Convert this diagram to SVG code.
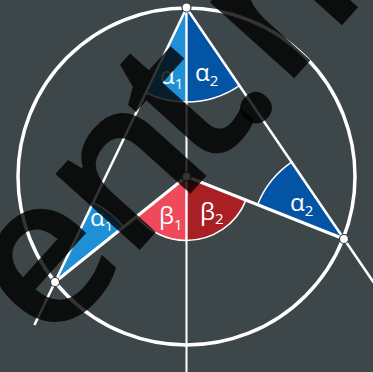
<svg xmlns="http://www.w3.org/2000/svg" width="373" height="372" viewBox="0 0 373 372">
<style>
.bg{fill:#3d4649}
.ln{stroke:#ffffff;fill:none;stroke-linecap:butt}
.w{stroke:#ffffff;stroke-width:1.5;stroke-linejoin:round}
.a1{fill:#2090d6}
.a2{fill:#0454a6}
.b1{fill:#ee4a5c}
.b2{fill:#a81f24}
.pt{fill:#ffffff;stroke:#2f3538;stroke-width:1.2}
.lbl{font-family:"Open Sans","DejaVu Sans",sans-serif;fill:#ffffff;font-size:24px}
.sub{font-size:15px}
.wm{font-family:"Open Sans","DejaVu Sans",sans-serif;font-size:210px;font-weight:600;fill:#000000;fill-opacity:0.8}
</style>
<rect class="bg" x="0" y="0" width="373" height="372"/>
<g id="wedges">
<g id="alpha1-top"><path class="a1 w" d="M186.5 8 L145.83 92.74 A94 94 0 0 0 186.5 102 Z"/></g>
<g id="alpha2-top"><path class="a2 w" d="M186.5 8 L186.5 102 A94 94 0 0 0 239.46 85.66 Z"/></g>
<g id="alpha2-right"><path class="a2 w" d="M344 239 L257.56 204.7 A93 93 0 0 1 291.6 162.16 Z"/></g>
<g id="alpha1-left"><path class="a1 w" d="M55 282 L93.08 202.67 A88 88 0 0 1 123.64 226.93 Z"/></g>
<g id="beta1"><path class="b1 w" d="M186.5 176.5 L186.5 240.5 A64 64 0 0 1 136.58 216.55 Z"/></g>
<g id="beta2"><path class="b2 w" d="M186.5 176.5 L245.99 200.1 A64 64 0 0 1 186.5 240.5 Z"/></g>
</g>
<g id="connectors">
<circle class="ln" cx="186.5" cy="176.5" r="168.5" stroke-width="3.5"/>
<line class="ln" x1="186.5" y1="8" x2="186.5" y2="372" stroke-width="2"/>
<line class="ln" x1="186.5" y1="8" x2="34.4" y2="325" stroke-width="2.5"/>
<line class="ln" x1="186.5" y1="8" x2="380" y2="291.8" stroke-width="2.5"/>
<line class="ln" x1="186.5" y1="176.5" x2="55" y2="282" stroke-width="3"/>
<line class="ln" x1="186.5" y1="176.5" x2="344" y2="239" stroke-width="3"/>
</g>
<g id="labels">
<text class="lbl" x="160" y="84">α<tspan class="sub" dy="5">1</tspan></text>
<text class="lbl" x="195" y="81">α<tspan class="sub" dy="5">2</tspan></text>
<text class="lbl" x="90" y="226">α<tspan class="sub" dy="5">1</tspan></text>
<text class="lbl" x="290" y="211">α<tspan class="sub" dy="5">2</tspan></text>
<text class="lbl" x="159" y="224">β<tspan class="sub" dy="6">1</tspan></text>
<text class="lbl" x="200" y="220">β<tspan class="sub" dy="4">2</tspan></text>
</g>
<g id="points">
<circle id="pt-top" class="pt" cx="186.5" cy="7.5" r="4.5"/>
<circle id="pt-center" class="pt" cx="186.5" cy="176.5" r="4.5"/>
<circle id="pt-left" class="pt" cx="55" cy="282" r="4.5"/>
<circle id="pt-right" class="pt" cx="344" cy="239" r="4.5"/>
</g>
<text class="wm" transform="translate(50,349.7) rotate(-48)" x="0 117 230 289 348" y="0 0 0 4 0">ent.m</text>
</svg>
